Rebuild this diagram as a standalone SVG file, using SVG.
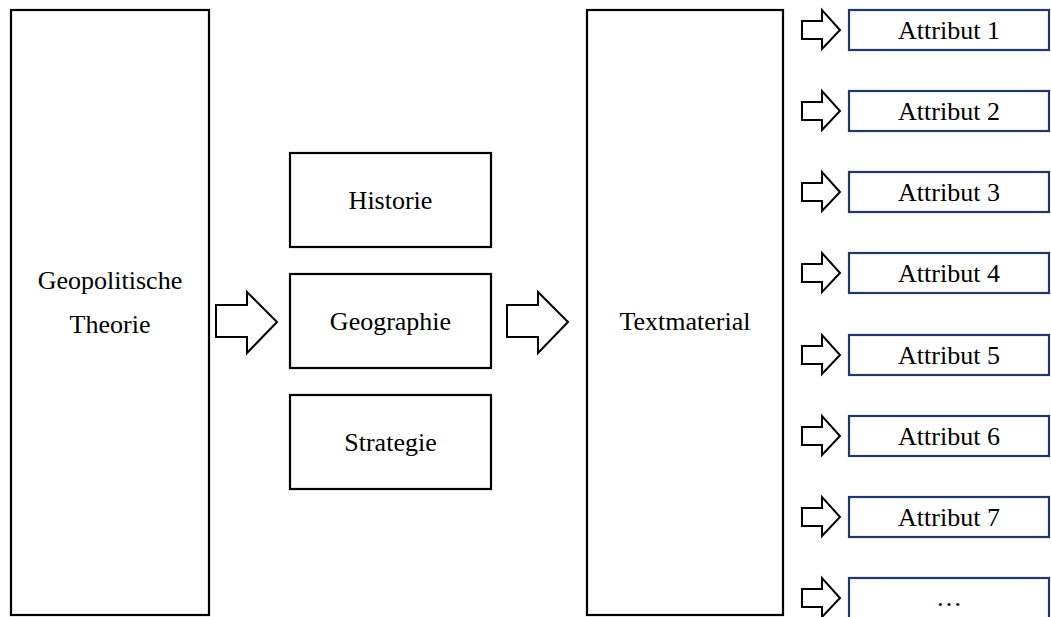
<svg xmlns="http://www.w3.org/2000/svg" width="1051" height="617" viewBox="0 0 1051 617">
<defs>
<style>
.box{fill:#fff;stroke:#000;stroke-width:2.2}
.attr{fill:#fff;stroke:#1f3864;stroke-width:2.2}
.arr{fill:#fff;stroke:#000;stroke-width:2;stroke-linejoin:miter}
.t{font-size:26px;fill:#000;text-anchor:middle}
</style>
<path id="sa" d="M0,-9 H20 V-20 L38,0 L20,19 V9 H0 Z" class="arr"/>
</defs>
<rect width="1051" height="617" fill="#fff"/>
<g font-family="Liberation Serif, serif">
<g id="geopolitische-theorie">
<rect class="box" x="11" y="10" width="198" height="605"/>
<text class="t" x="110" y="289">Geopolitische</text>
<text class="t" x="110" y="333">Theorie</text>
</g>
<g id="historie">
<rect class="box" x="290" y="153" width="201" height="94"/>
<text class="t" x="390.5" y="209">Historie</text>
</g>
<g id="geographie">
<rect class="box" x="290" y="274" width="201" height="94"/>
<text class="t" x="390.5" y="330">Geographie</text>
</g>
<g id="strategie">
<rect class="box" x="290" y="395" width="201" height="94"/>
<text class="t" x="390.5" y="451">Strategie</text>
</g>
<g id="textmaterial">
<rect class="box" x="587" y="10" width="196" height="605"/>
<text class="t" x="685" y="330">Textmaterial</text>
</g>
<g id="attribut-1"><rect class="attr" x="849" y="10" width="200" height="40"/><text class="t" x="949" y="39">Attribut 1</text></g>
<g id="attribut-2"><rect class="attr" x="849" y="91" width="200" height="40"/><text class="t" x="949" y="120">Attribut 2</text></g>
<g id="attribut-3"><rect class="attr" x="849" y="172" width="200" height="40"/><text class="t" x="949" y="201">Attribut 3</text></g>
<g id="attribut-4"><rect class="attr" x="849" y="253" width="200" height="40"/><text class="t" x="949" y="282">Attribut 4</text></g>
<g id="attribut-5"><rect class="attr" x="849" y="335" width="200" height="40"/><text class="t" x="949" y="364">Attribut 5</text></g>
<g id="attribut-6"><rect class="attr" x="849" y="416" width="200" height="40"/><text class="t" x="949" y="445">Attribut 6</text></g>
<g id="attribut-7"><rect class="attr" x="849" y="497" width="200" height="40"/><text class="t" x="949" y="526">Attribut 7</text></g>
<g id="attribut-more"><rect class="attr" x="849" y="578" width="200" height="42"/><text class="t" x="949" y="606">…</text></g>
</g>
<g id="connectors">
<path class="arr" d="M216,305 H247 V292 L277,322 L247,353 V337 H216 Z"/>
<path class="arr" d="M507,305 H538 V292 L568,322 L538,353 V337 H507 Z"/>
<use href="#sa" x="802" y="30"/>
<use href="#sa" x="802" y="111"/>
<use href="#sa" x="802" y="192"/>
<use href="#sa" x="802" y="273"/>
<use href="#sa" x="802" y="355"/>
<use href="#sa" x="802" y="436"/>
<use href="#sa" x="802" y="517"/>
<use href="#sa" x="802" y="598"/>
</g>
</svg>
